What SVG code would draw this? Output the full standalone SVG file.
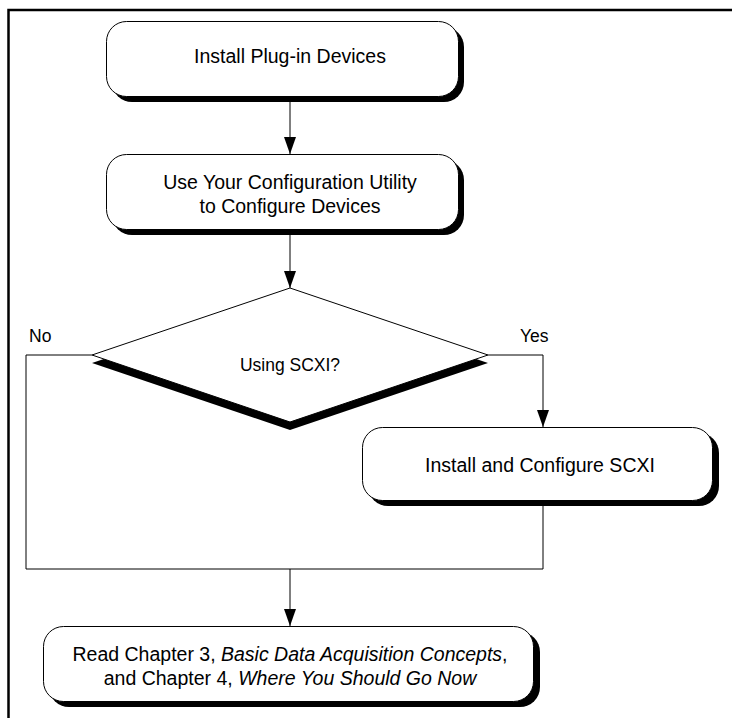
<svg xmlns="http://www.w3.org/2000/svg" width="732" height="718" viewBox="0 0 732 718">
<defs>
<style>
.box{fill:#fff;stroke:#000;stroke-width:1}
.shadow{fill:#000}
.t{font-family:"Liberation Sans",Arial,sans-serif;font-size:19.5px;fill:#000;text-anchor:middle}
.lbl{font-family:"Liberation Sans",Arial,sans-serif;font-size:17.5px;fill:#000}
.c{fill:none;stroke:#000;stroke-width:1}
</style>
<marker id="ah" markerUnits="userSpaceOnUse" markerWidth="17" markerHeight="12" refX="17" refY="6" orient="auto">
<path d="M0,0 L17,6 L0,12 z" fill="#000"/>
</marker>
</defs>
<rect width="732" height="718" fill="#fff"/>
<path d="M8.5,718 V10 H732" fill="none" stroke="#000" stroke-width="2.5"/>

<g id="connectors">
<path class="c" d="M290,102 V154" marker-end="url(#ah)"/>
<path class="c" d="M290,235 V288" marker-end="url(#ah)"/>
<path class="c" d="M92,355 H26 V569 H543"/>
<path class="c" d="M488,355 H543 V427" marker-end="url(#ah)"/>
<path class="c" d="M543,506 V569"/>
<path class="c" d="M290,569 V626" marker-end="url(#ah)"/>
</g>

<g id="n1">
<rect class="shadow" x="112" y="27" width="352" height="75" rx="20"/>
<rect class="box" x="106.5" y="21.5" width="352" height="75" rx="20"/>
<text class="t" x="290" y="63">Install Plug-in Devices</text>
</g>

<g id="n2">
<rect class="shadow" x="112" y="160" width="352" height="75" rx="20"/>
<rect class="box" x="106.5" y="154.5" width="352" height="75" rx="20"/>
<text class="t" x="290" y="189">Use Your Configuration Utility</text>
<text class="t" x="290" y="213">to Configure Devices</text>
</g>

<g id="n3">
<polygon class="shadow" points="290,296 488,363 290,430 92,363"/>
<polygon class="box" points="290,288 488,355 290,422 92,355"/>
<text class="t" style="font-size:17.5px" x="290" y="371">Using SCXI?</text>
</g>

<text class="lbl" x="29" y="342">No</text>
<text class="lbl" x="520" y="342">Yes</text>

<g id="n4">
<rect class="shadow" x="368" y="433" width="351" height="73" rx="20"/>
<rect class="box" x="362.5" y="427.5" width="350" height="73" rx="20"/>
<text class="t" x="540" y="472">Install and Configure SCXI</text>
</g>

<g id="n5">
<rect class="shadow" x="49" y="632" width="491" height="75" rx="20"/>
<rect class="box" x="43.5" y="626.5" width="490" height="75" rx="20"/>
<text class="t" x="290" y="661">Read Chapter 3, <tspan font-style="italic">Basic Data Acquisition Concepts</tspan>,</text>
<text class="t" x="290" y="685">and Chapter 4, <tspan font-style="italic">Where You Should Go Now</tspan></text>
</g>
</svg>
